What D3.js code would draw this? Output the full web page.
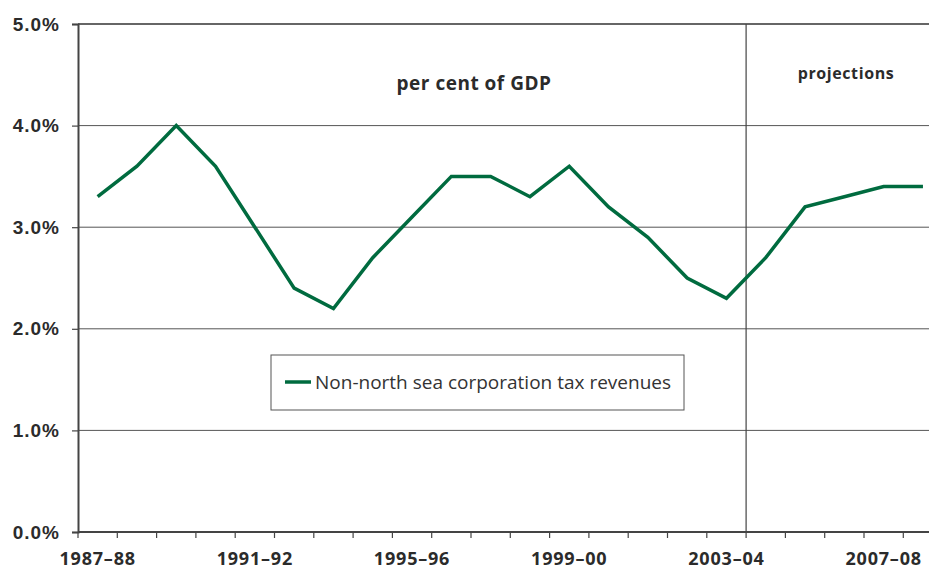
<!DOCTYPE html>
<html>
<head>
<meta charset="utf-8">
<script src="https://cdn.jsdelivr.net/npm/d3@7"></script>
<style>
  body { margin: 0; background: #fff; }
  svg { display: block; font-family: "Open Sans", "Noto Sans", sans-serif; }
</style>
</head>
<body>
<div id="chart"></div>
<script>
let svgWidth = 929;
let svgHeight = 570;

// Data
let years = ["1987–88", "1988–89", "1989–90", "1990–91", "1991–92", "1992–93", "1993–94",
  "1994–95", "1995–96", "1996–97", "1997–98", "1998–99", "1999–00", "2000–01", "2001–02",
  "2002–03", "2003–04", "2004–05", "2005–06", "2006–07", "2007–08", "2008–09"];
let revenues = [3.3, 3.6, 4.0, 3.6, 3.0, 2.4, 2.2, 2.7, 3.1, 3.5, 3.5, 3.3, 3.6, 3.2, 2.9,
  2.5, 2.3, 2.7, 3.2, 3.3, 3.4, 3.4];
let yTicks = [0, 1, 2, 3, 4, 5];
let labelledYears = ["1987–88", "1991–92", "1995–96", "1999–00", "2003–04", "2007–08"];
let projectionStart = "2004–05";
let seriesName = "Non-north sea corporation tax revenues";

let margin = { left: 78, top: 24, bottom: 38 };
let plotRight = margin.left + 39.3 * years.length;
let plotBottom = svgHeight - margin.bottom;

let svg = d3.select("#chart").append("svg")
  .attr("width", svgWidth).attr("height", svgHeight);

let x = d3.scaleBand().domain(years).range([margin.left, plotRight]);
let y = d3.scaleLinear().domain([0, 5]).range([plotBottom, margin.top]);

// gridlines
svg.append("g").selectAll("line")
  .data(yTicks.slice(1))
  .enter().append("line")
  .attr("x1", margin.left).attr("x2", plotRight)
  .attr("y1", d => y(d)).attr("y2", d => y(d))
  .attr("stroke", d => d == 5 ? "#333" : "#555")
  .attr("stroke-width", d => d == 5 ? 1.6 : 1);

// projections divider
svg.append("line")
  .attr("x1", x(projectionStart)).attr("x2", x(projectionStart))
  .attr("y1", y(5)).attr("y2", y(0))
  .attr("stroke", "#444").attr("stroke-width", 1.2);

// y axis
let yAxis = svg.append("g")
  .attr("transform", `translate(${margin.left},0)`)
  .call(d3.axisLeft(y).tickValues(yTicks).tickSize(6).tickPadding(12)
    .tickFormat(d => d3.format(".1f")(d) + "%"));
yAxis.select(".domain").attr("stroke", "#444").attr("stroke-width", 2);
yAxis.selectAll(".tick line").attr("stroke", "#444").attr("stroke-width", 1.2);
yAxis.selectAll("text")
  .attr("fill", "#2b2b2b").attr("font-size", 19).attr("font-weight", "bold")
  .attr("letter-spacing", 1);

// x axis (ticks between categories)
let xAxis = svg.append("g")
  .attr("transform", `translate(0,${plotBottom})`);
xAxis.append("line")
  .attr("x1", margin.left).attr("x2", plotRight)
  .attr("stroke", "#444").attr("stroke-width", 2);
xAxis.selectAll(".xtick")
  .data(years)
  .enter().append("line")
  .attr("x1", d => x(d)).attr("x2", d => x(d))
  .attr("y1", 0).attr("y2", 6)
  .attr("stroke", "#444").attr("stroke-width", 1.2);
xAxis.selectAll("text")
  .data(labelledYears)
  .enter().append("text")
  .attr("x", d => x(d) + x.bandwidth() / 2)
  .attr("y", 33)
  .attr("text-anchor", "middle")
  .attr("fill", "#2b2b2b").attr("font-size", 18).attr("font-weight", "bold")
  .attr("letter-spacing", 0.8)
  .text(d => d);

// series line
let line = d3.line()
  .x((d, i) => x(years[i]) + x.bandwidth() / 2)
  .y(d => y(d));
svg.append("path")
  .datum(revenues)
  .attr("d", line)
  .attr("fill", "none")
  .attr("stroke", "#006b3f")
  .attr("stroke-width", 3.5)
  .attr("stroke-linejoin", "miter");

// annotations
svg.append("text")
  .attr("x", 474).attr("y", 90)
  .attr("text-anchor", "middle")
  .attr("fill", "#2b2b2b").attr("font-size", 19).attr("font-weight", "bold")
  .attr("letter-spacing", 0.5)
  .text("per cent of GDP");
svg.append("text")
  .attr("x", 846).attr("y", 79)
  .attr("text-anchor", "middle")
  .attr("fill", "#2b2b2b").attr("font-size", 16).attr("font-weight", "bold")
  .attr("letter-spacing", 0.6)
  .text("projections");

// legend
let legend = svg.append("g").attr("transform", "translate(271,355)");
legend.append("rect")
  .attr("width", 413).attr("height", 55)
  .attr("fill", "#fff").attr("stroke", "#555").attr("stroke-width", 1);
legend.append("line")
  .attr("x1", 14).attr("x2", 40).attr("y1", 27).attr("y2", 27)
  .attr("stroke", "#006b3f").attr("stroke-width", 3.5);
legend.append("text")
  .attr("x", 44).attr("y", 34)
  .attr("fill", "#333").attr("font-size", 19)
  .text(seriesName);
</script>
</body>
</html>
